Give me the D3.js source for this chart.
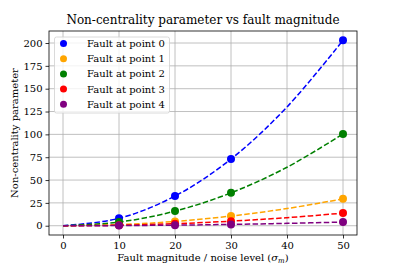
<!DOCTYPE html>
<html>
<head>
<meta charset="utf-8">
<script src="https://cdn.jsdelivr.net/npm/d3@7"></script>
<style>
body { margin: 0; background: #fff; }
text { font-family: "DejaVu Serif", serif; fill: #000; }
</style>
</head>
<body>
<div id="chart"></div>
<script>
// measured points (markers)
var xPoints = [10, 20, 30, 50];
var seriesNames = ["Fault at point 0", "Fault at point 1", "Fault at point 2", "Fault at point 3", "Fault at point 4"];
var seriesColors = ["#0000ff", "#ffa500", "#008000", "#ff0000", "#800080"];
var p0 = [8.1, 32.5, 73, 203];
var p1 = [1.2, 4.7, 10.6, 29.4];
var p2 = [4, 16, 36, 100.5];
var p3 = [0.55, 2.2, 5, 13.8];
var p4 = [0.16, 0.65, 1.45, 4];
// dashed fit curves
var xCurve = [0, 10, 20, 30, 40, 50];
var c0 = [0, 8.1, 32.5, 73, 130, 203];
var c1 = [0, 1.2, 4.7, 10.6, 18.8, 29.4];
var c2 = [0, 4, 16, 36, 64, 100.5];
var c3 = [0, 0.55, 2.2, 5, 8.8, 13.8];
var c4 = [0, 0.16, 0.65, 1.45, 2.6, 4];
var xTicks = [0, 10, 20, 30, 40, 50];
var yTicks = [0, 25, 50, 75, 100, 125, 150, 175, 200];

var points = [p0, p1, p2, p3, p4];
var curves = [c0, c1, c2, c3, c4];

var W = 397, H = 264;
// plot box (window.top is taken, so prefixed names)
var boxL = 49, boxR = 357, boxT = 31, boxB = 235;

var svg = d3.select("#chart").append("svg")
  .attr("width", W).attr("height", H);

var x = d3.scaleLinear().domain([-2.5, 52.5]).range([boxL, boxR]);
var y = d3.scaleLinear().domain([-10.15, 213.15]).range([boxB, boxT]);

// grid
svg.append("g").selectAll("line").data(xTicks).enter().append("line")
  .attr("x1", d => x(d)).attr("x2", d => x(d))
  .attr("y1", boxT).attr("y2", boxB)
  .attr("stroke", "#b0b0b0").attr("stroke-width", 0.8);
svg.append("g").selectAll("line").data(yTicks).enter().append("line")
  .attr("x1", boxL).attr("x2", boxR)
  .attr("y1", d => y(d)).attr("y2", d => y(d))
  .attr("stroke", "#b0b0b0").attr("stroke-width", 0.8);

// axes
var xAxis = svg.append("g").attr("transform", "translate(0," + boxB + ")")
  .call(d3.axisBottom(x).tickValues(xTicks).tickSize(3.5).tickPadding(3));
var yAxis = svg.append("g").attr("transform", "translate(" + boxL + ",0)")
  .call(d3.axisLeft(y).tickValues(yTicks).tickSize(3.5).tickPadding(3));
[xAxis, yAxis].forEach(function(a) {
  a.select(".domain").remove();
  a.selectAll("text").style("font-family", "DejaVu Serif").style("font-size", "10px").attr("fill", "#000");
  a.selectAll("line").attr("stroke", "#000").attr("stroke-width", 0.8);
});

// curves
var line = d3.line()
  .x((d, i) => x(xCurve[i]))
  .y(d => y(d))
  .curve(d3.curveCatmullRom);

svg.append("g").selectAll("path").data(curves).enter().append("path")
  .attr("d", d => line(d))
  .attr("fill", "none")
  .attr("stroke", (d, i) => seriesColors[i])
  .attr("stroke-width", 1.5)
  .attr("stroke-dasharray", "5.5,2.4");

// markers
points.forEach(function(s, k) {
  svg.append("g").selectAll("circle").data(s).enter().append("circle")
    .attr("cx", (d, i) => x(xPoints[i]))
    .attr("cy", d => y(d))
    .attr("r", 4)
    .attr("fill", seriesColors[k]);
});

// frame
svg.append("rect")
  .attr("x", boxL).attr("y", boxT)
  .attr("width", boxR - boxL).attr("height", boxB - boxT)
  .attr("fill", "none").attr("stroke", "#000").attr("stroke-width", 0.8);

// legend
var lg = svg.append("g");
lg.append("rect")
  .attr("x", 54.5).attr("y", 37).attr("width", 115).attr("height", 76)
  .attr("rx", 2).attr("fill", "#fff").attr("fill-opacity", 0.8)
  .attr("stroke", "#d0d0d0").attr("stroke-width", 0.8);
seriesNames.forEach(function(n, i) {
  var yy = 43.5 + i * 15.2;
  lg.append("circle").attr("cx", 63.5).attr("cy", yy).attr("r", 3.5).attr("fill", seriesColors[i]);
  lg.append("text").attr("x", 87).attr("y", yy + 3.5)
    .style("font-size", "10px").text(n);
});

// title and labels
svg.append("text").attr("x", (boxL + boxR) / 2).attr("y", 24)
  .attr("text-anchor", "middle").style("font-size", "12px").text("Non-centrality parameter vs fault magnitude");
svg.append("text").attr("transform", "translate(18," + ((boxT + boxB) / 2) + ") rotate(-90)")
  .attr("text-anchor", "middle").style("font-size", "10px").text("Non-centrality parameter");
var xl = svg.append("text").attr("x", (boxL + boxR) / 2).attr("y", 261)
  .attr("text-anchor", "middle").style("font-size", "10px");
xl.append("tspan").text("Fault magnitude / noise level (");
xl.append("tspan").style("font-style", "italic").text("σ");
xl.append("tspan").attr("dy", 2).style("font-size", "7px").style("font-style", "italic").text("m");
xl.append("tspan").attr("dy", -2).text(")");
</script>
</body>
</html>
